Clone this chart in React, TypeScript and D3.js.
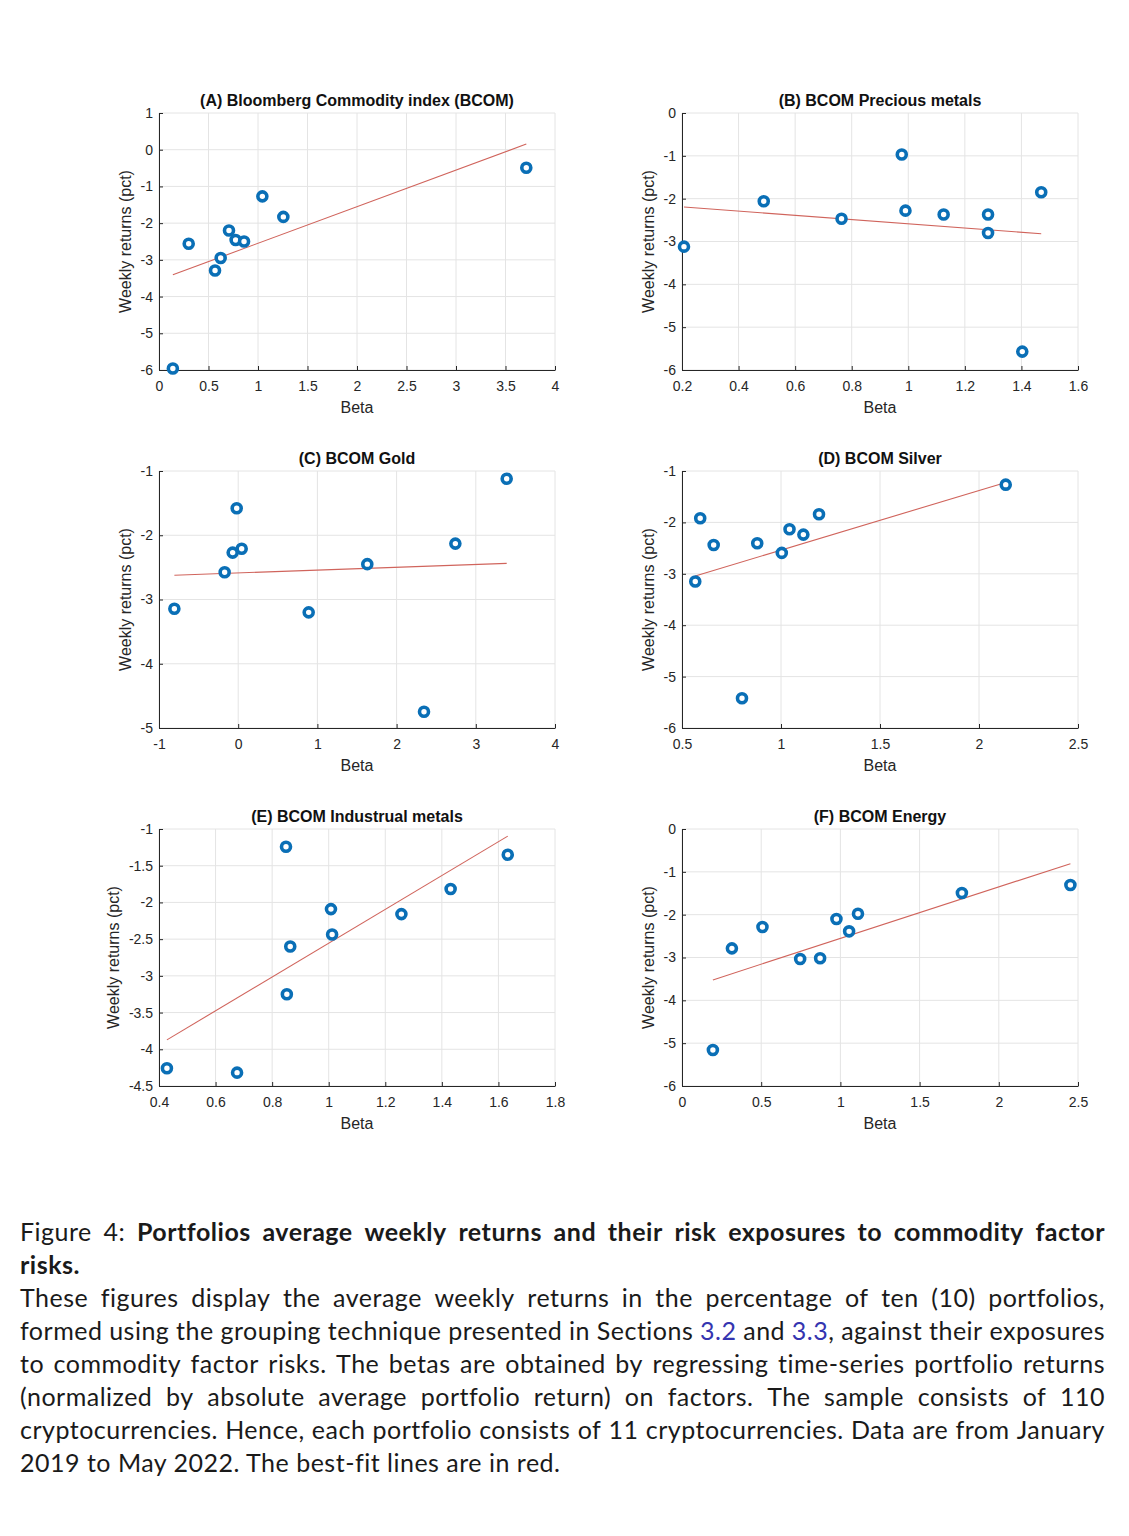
import React, { useEffect, useRef } from 'react';
import * as d3 from 'd3';

const W = 1129;
const H = 1536;

// ---------- data ----------
const titles = [
  '(A) Bloomberg Commodity index (BCOM)',
  '(B) BCOM Precious metals',
  '(C) BCOM Gold',
  '(D) BCOM Silver',
  '(E) BCOM Industrual metals',
  '(F) BCOM Energy',
];

const betaA = [0.14, 0.30, 0.566, 0.623, 0.707, 0.774, 0.859, 1.044, 1.256, 3.71];
const retA = [-5.96, -2.56, -3.29, -2.95, -2.2, -2.46, -2.5, -1.27, -1.83, -0.49];

const betaB = [0.207, 0.489, 0.764, 0.977, 0.99, 1.125, 1.282, 1.282, 1.403, 1.47];
const retB = [-3.12, -2.06, -2.47, -0.97, -2.28, -2.37, -2.37, -2.8, -5.57, -1.85];

const betaC = [-0.806, -0.171, -0.07, -0.019, 0.044, 0.89, 1.63, 2.346, 2.742, 3.39];
const retC = [-3.145, -2.575, -2.27, -1.58, -2.21, -3.2, -2.45, -4.746, -2.13, -1.12];

const betaD = [0.567, 0.592, 0.66, 0.803, 0.88, 1.004, 1.043, 1.113, 1.192, 2.135];
const retD = [-3.15, -1.92, -2.44, -5.42, -2.405, -2.593, -2.133, -2.237, -1.842, -1.266];

const betaE = [0.428, 0.676, 0.849, 0.852, 0.864, 1.008, 1.012, 1.257, 1.431, 1.633];
const retE = [-4.259, -4.318, -1.241, -3.25, -2.6, -2.091, -2.436, -2.159, -1.818, -1.35];

const betaF = [0.195, 0.315, 0.508, 0.746, 0.872, 0.975, 1.055, 1.111, 1.767, 2.452];
const retF = [-5.16, -2.786, -2.288, -3.035, -3.019, -2.101, -2.389, -1.977, -1.494, -1.307];

const xTicksA = [0, 0.5, 1, 1.5, 2, 2.5, 3, 3.5, 4];
const yTicksA = [1, 0, -1, -2, -3, -4, -5, -6];
const xTicksB = [0.2, 0.4, 0.6, 0.8, 1, 1.2, 1.4, 1.6];
const yTicksB = [0, -1, -2, -3, -4, -5, -6];
const xTicksC = [-1, 0, 1, 2, 3, 4];
const yTicksC = [-1, -2, -3, -4, -5];
const xTicksD = [0.5, 1, 1.5, 2, 2.5];
const yTicksD = [-1, -2, -3, -4, -5, -6];
const xTicksE = [0.4, 0.6, 0.8, 1, 1.2, 1.4, 1.6, 1.8];
const yTicksE = [-1, -1.5, -2, -2.5, -3, -3.5, -4, -4.5];
const xTicksF = [0, 0.5, 1, 1.5, 2, 2.5];
const yTicksF = [0, -1, -2, -3, -4, -5, -6];

const xLabel = 'Beta';
const yLabel = 'Weekly returns (pct)';

type Seg = { t: string; b?: boolean; l?: boolean };
const captionLines: Seg[][] = [
  [{ t: 'Figure 4: ' }, { t: 'Portfolios average weekly returns and their risk exposures to commodity factor', b: true }],
  [{ t: 'risks.', b: true }],
  [{ t: 'These figures display the average weekly returns in the percentage of ten (10) portfolios,' }],
  [{ t: 'formed using the grouping technique presented in Sections ' }, { t: '3.2', l: true }, { t: ' and ' }, { t: '3.3', l: true }, { t: ', against their exposures' }],
  [{ t: 'to commodity factor risks. The betas are obtained by regressing time-series portfolio returns' }],
  [{ t: '(normalized by absolute average portfolio return) on factors. The sample consists of 110' }],
  [{ t: 'cryptocurrencies. Hence, each portfolio consists of 11 cryptocurrencies. Data are from January' }],
  [{ t: '2019 to May 2022. The best-fit lines are in red.' }],
];
const captionJustify = [true, false, true, true, true, true, true, false];

// ---------- layout ----------
const colLeft = [159, 682];
const rowTop = [113, 471, 829];
const plotW = 396;
const plotH = 257;

const panels = [
  { title: titles[0], xs: betaA, ys: retA, xt: xTicksA, yt: yTicksA },
  { title: titles[1], xs: betaB, ys: retB, xt: xTicksB, yt: yTicksB },
  { title: titles[2], xs: betaC, ys: retC, xt: xTicksC, yt: yTicksC },
  { title: titles[3], xs: betaD, ys: retD, xt: xTicksD, yt: yTicksD },
  { title: titles[4], xs: betaE, ys: retE, xt: xTicksE, yt: yTicksE },
  { title: titles[5], xs: betaF, ys: retF, xt: xTicksF, yt: yTicksF },
];

const AX = '#262626';
const GRID = '#e4e4e4';
const BLUE = '#0a6fb6';
const RED = '#d0645c';
const FONT = '"Liberation Sans", Arial, Helvetica, sans-serif';
const CAPFONT = 'Lato, "Noto Sans", sans-serif';

function fit(xs: number[], ys: number[]) {
  const mx = d3.mean(xs)!;
  const my = d3.mean(ys)!;
  let sxy = 0, sxx = 0;
  xs.forEach((x, i) => { sxy += (x - mx) * (ys[i] - my); sxx += (x - mx) * (x - mx); });
  const b = sxy / sxx;
  return { a: my - b * mx, b };
}

export default function App() {
  const ref = useRef<SVGSVGElement>(null);

  useEffect(() => {
    const svg = d3.select(ref.current!);
    svg.selectAll('*').remove();
    svg.append('rect').attr('width', W).attr('height', H).attr('fill', '#fff');

    panels.forEach((p, i) => {
      const left = colLeft[i % 2];
      const top = rowTop[Math.floor(i / 2)];
      const x = d3.scaleLinear().domain([p.xt[0], p.xt[p.xt.length - 1]]).range([left, left + plotW]);
      const y = d3.scaleLinear().domain(d3.extent(p.yt) as [number, number]).range([top + plotH, top]);
      const g = svg.append('g');

      // grid
      g.selectAll('line.gx').data(p.xt).enter().append('line')
        .attr('x1', (d) => x(d)).attr('x2', (d) => x(d))
        .attr('y1', top).attr('y2', top + plotH)
        .attr('stroke', GRID).attr('stroke-width', 1);
      g.selectAll('line.gy').data(p.yt).enter().append('line')
        .attr('x1', left).attr('x2', left + plotW)
        .attr('y1', (d) => y(d)).attr('y2', (d) => y(d))
        .attr('stroke', GRID).attr('stroke-width', 1);

      // axes
      const xa = g.append('g').attr('transform', `translate(0,${top + plotH})`)
        .call(d3.axisBottom(x).tickValues(p.xt).tickFormat((d) => String(d)).tickSize(-4).tickSizeOuter(0).tickPadding(11));
      const ya = g.append('g').attr('transform', `translate(${left},0)`)
        .call(d3.axisLeft(y).tickValues(p.yt).tickFormat((d) => String(d)).tickSize(-4).tickSizeOuter(0).tickPadding(6));
      [xa, ya].forEach((a) => {
        a.select('.domain').attr('stroke', AX).attr('stroke-width', 1);
        a.selectAll('.tick line').attr('stroke', AX).attr('stroke-width', 1);
        a.selectAll('.tick text').attr('fill', AX).style('font-family', FONT).style('font-size', '14px');
      });

      // fit line
      const f = fit(p.xs, p.ys);
      const x0 = d3.min(p.xs)!;
      const x1 = d3.max(p.xs)!;
      g.append('line')
        .attr('x1', x(x0)).attr('y1', y(f.a + f.b * x0))
        .attr('x2', x(x1)).attr('y2', y(f.a + f.b * x1))
        .attr('stroke', RED).attr('stroke-width', 1.1);

      // points
      g.selectAll('circle.pt').data(p.xs).enter().append('circle')
        .attr('cx', (d) => x(d)).attr('cy', (_d, j) => y(p.ys[j]))
        .attr('r', 4.5).attr('fill', '#fff').attr('stroke', BLUE).attr('stroke-width', 3.6);

      // title
      g.append('text').attr('x', left + plotW / 2).attr('y', top - 7)
        .attr('text-anchor', 'middle').style('font-family', FONT).style('font-size', '16px')
        .style('font-weight', 'bold').attr('fill', '#111').text(p.title);

      // x label
      g.append('text').attr('x', left + plotW / 2).attr('y', top + plotH + 43)
        .attr('text-anchor', 'middle').style('font-family', FONT).style('font-size', '16px')
        .attr('fill', AX).text(xLabel);

      // y label
      const bb = (ya.node() as SVGGElement).getBBox();
      const lx = left + bb.x - 10;
      const ly = top + plotH / 2;
      g.append('text').attr('transform', `translate(${lx},${ly}) rotate(-90)`)
        .attr('text-anchor', 'middle').style('font-family', FONT).style('font-size', '16px')
        .attr('fill', AX).text(yLabel);
    });

    // caption
    const capX0 = 20;
    const capX1 = 1105;
    const base0 = 1241;
    const lineH = 33;
    const cap = svg.append('g').style('font-family', CAPFONT).style('font-size', '25px').style('letter-spacing', '0.5px');
    const styleSpan = (ts: any, s: Seg) => {
      ts.style('font-weight', s.b ? 'bold' : 'normal').attr('fill', s.l ? '#3535b0' : '#1a1a1a');
    };
    captionLines.forEach((segs, li) => {
      const yb = base0 + li * lineH;
      if (!captionJustify[li]) {
        const t = cap.append('text').attr('x', capX0).attr('y', yb).attr('xml:space', 'preserve');
        segs.forEach((s) => { const ts = t.append('tspan').text(s.t); styleSpan(ts, s); });
        return;
      }
      const words: Seg[][] = [[]];
      segs.forEach((s) => {
        const parts = s.t.split(' ');
        parts.forEach((part, k) => {
          if (k > 0) words.push([]);
          if (part.length) words[words.length - 1].push({ ...s, t: part });
        });
      });
      const ws = words.filter((w) => w.length);
      const nodes = ws.map((w) => {
        const t = cap.append('text').attr('y', yb);
        w.forEach((s) => { const ts = t.append('tspan').text(s.t); styleSpan(ts, s); });
        return t;
      });
      const widths = nodes.map((n) => (n.node() as SVGTextElement).getComputedTextLength());
      const total = d3.sum(widths);
      const gap = (capX1 - capX0 - total) / (ws.length - 1);
      let cx = capX0;
      nodes.forEach((n, k) => { n.attr('x', cx); cx += widths[k] + gap; });
    });
  }, []);

  return (
    <svg ref={ref} width={W} height={H} style={{ position: 'absolute', left: 0, top: 0, display: 'block' }} />
  );
}
